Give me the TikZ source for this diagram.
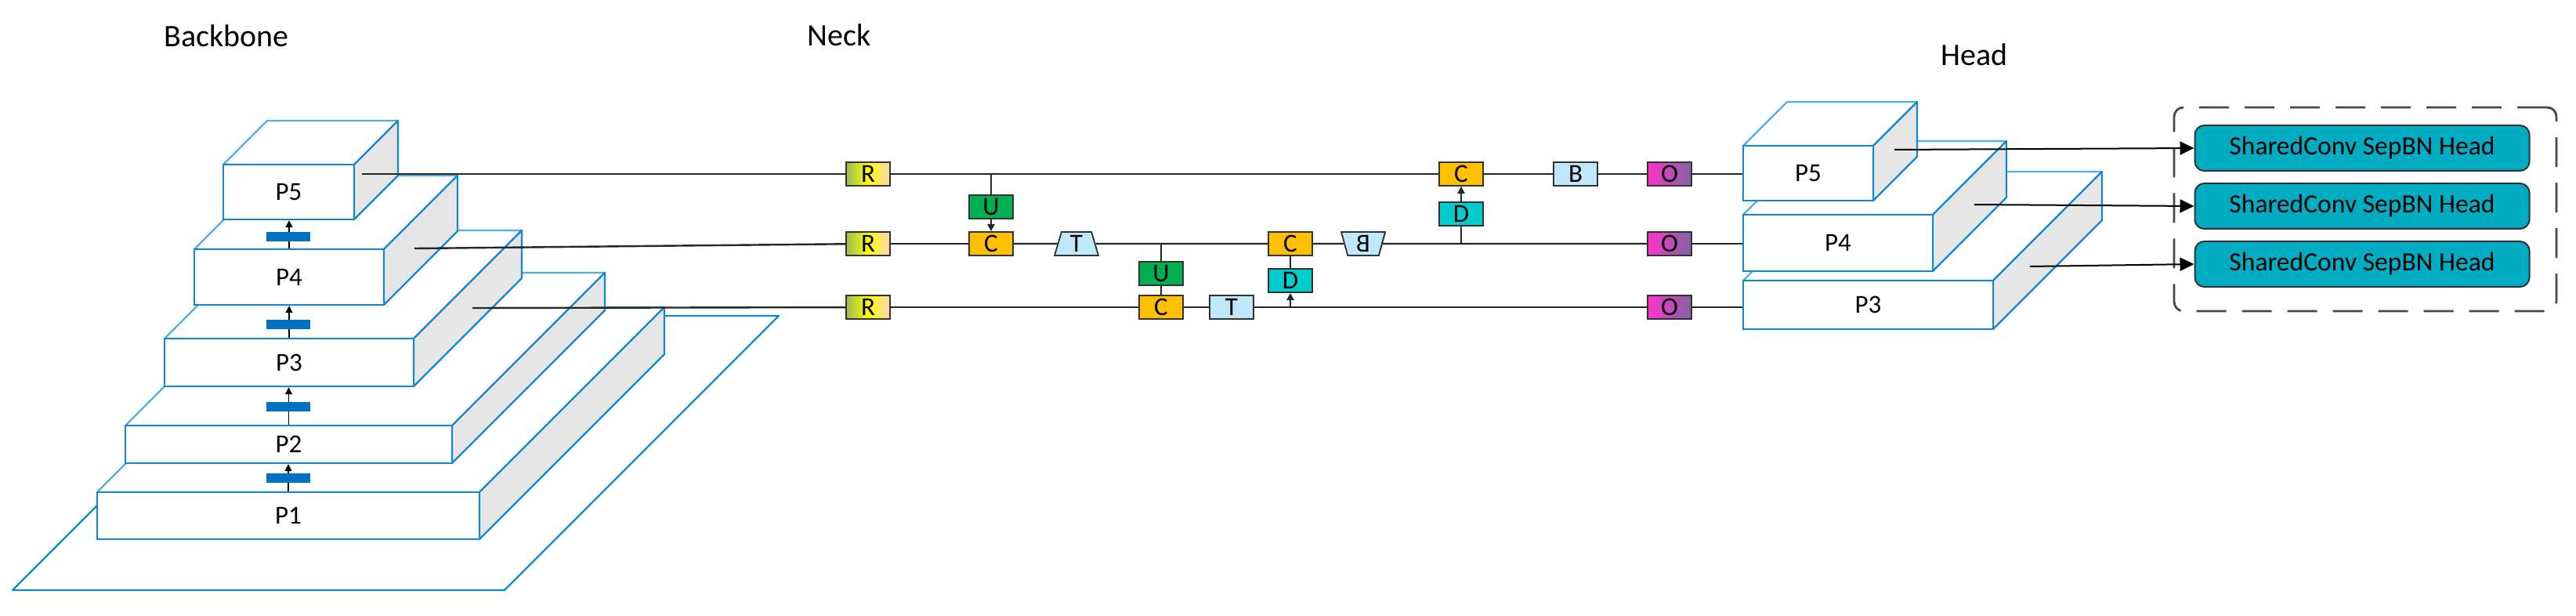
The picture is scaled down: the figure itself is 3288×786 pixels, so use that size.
\documentclass[tikz,border=0pt]{standalone}
\usepackage{fontspec}
\setmainfont{Carlito}
\usetikzlibrary{arrows.meta,shapes.geometric,shadows}

\definecolor{bbBlue}{RGB}{16,136,212}
\definecolor{bbBlueL}{RGB}{80,176,228}
\definecolor{sideGray}{RGB}{230,230,230}
\definecolor{barBlue}{RGB}{0,112,192}
\definecolor{cOrange}{RGB}{255,192,0}
\definecolor{cGreen}{RGB}{0,176,80}
\definecolor{cCyan}{RGB}{0,204,204}
\definecolor{cLight}{RGB}{192,233,252}
\definecolor{rLeft}{RGB}{155,187,89}
\definecolor{rMid}{RGB}{255,255,0}
\definecolor{rRight}{RGB}{252,213,180}
\definecolor{oLeft}{RGB}{255,51,204}
\definecolor{oRight}{RGB}{128,100,162}
\definecolor{headTeal}{RGB}{0,172,193}
\definecolor{edgeDark}{RGB}{50,50,50}

\tikzset{
  front/.style={draw=bbBlue,fill=white,line width=1.2pt,inner sep=0pt,font=\fontsize{16.5}{18}\selectfont},
  opbox/.style={draw=edgeDark,line width=0.9pt,minimum width=28pt,minimum height=15pt,inner sep=0pt,
     font=\fontsize{16.5}{16}\selectfont,
     drop shadow={shadow xshift=0.6pt,shadow yshift=-0.6pt,fill=black,opacity=0.25}},
  rbox/.style={opbox,left color=rLeft,right color=rRight,middle color=rMid},
  obox/.style={opbox,left color=oLeft,right color=oRight},
  cbox/.style={opbox,fill=cOrange},
  ubox/.style={opbox,fill=cGreen},
  dbox/.style={opbox,fill=cCyan},
  lbox/.style={opbox,fill=cLight},
  trap/.style={opbox,fill=cLight,shape=trapezium,trapezium left angle=80,trapezium right angle=80,trapezium stretches=true},
  flow/.style={line width=1.2pt,draw=black!85},
  upar/.style={flow,-{Triangle[length=4.5pt,width=4.5pt]}},
  thinar/.style={line width=0.8pt,-{Triangle[length=4.5pt,width=4.5pt]}},
  bbbar/.style={fill=barBlue,minimum width=28pt,minimum height=6pt,inner sep=0pt},
  shead/.style={draw=edgeDark,line width=1pt,fill=headTeal,rounded corners=6pt,minimum width=213.5pt,
     minimum height=29pt,inner sep=0pt,font=\fontsize{16.8}{18}\selectfont},
  headar/.style={line width=1pt,-{Triangle[length=9pt,width=8.5pt]}},
  ttl/.style={font=\fontsize{20}{24}\selectfont,inner sep=0pt},
  grp/.style={draw=edgeDark!90,line width=1.4pt,dash pattern=on 19pt off 10pt,rounded corners=6pt,
     minimum width=244pt,minimum height=130pt,inner sep=0pt}
}

% #1 x1, #2 y1 (top), #3 x2, #4 y2 (bottom), #5 depth, #6 name, #7 label
\newcommand{\cuboid}[7]{%
  \filldraw[fill=white,draw=bbBlueL,line width=1.1pt,line join=round]
     (#1,#2) -- ++(#5,-#5) -- ({#3+#5},{#2-#5}) -- (#3,#2) -- cycle;
  \filldraw[fill=sideGray,draw=bbBlue,line width=1.1pt,line join=round]
     (#3,#2) -- ++(#5,-#5) -- ({#3+#5},{#4-#5}) -- (#3,#4) -- cycle;
  \node[front,minimum width={(#3-#1)*0.5pt},minimum height={(#4-#2)*0.5pt}]
     (#6) at ({(#1+#3)/2},{(#2+#4)/2}) {#7};
}

\begin{document}
\begin{tikzpicture}[x=0.5pt,y=-0.5pt]
\useasboundingbox (0,0) rectangle (3288,786);

% titles
\node[ttl] (tBackbone) at (289,46) {Backbone};
\node[ttl] (tNeck) at (1071,45) {Neck};
\node[ttl] (tHead) at (2520,70) {Head};

% ---------------- backbone ----------------
\filldraw[fill=white,draw=bbBlue,line width=1.1pt,line join=round]
  (16,753) -- (644,753) -- (994,403) -- (366,403) -- cycle;
\cuboid{124}{628}{612}{688}{236}{bbP1}{P1}
\cuboid{160}{543}{577}{591}{195}{bbP2}{P2}
\cuboid{210}{432}{528}{493}{138}{bbP3}{P3}
\cuboid{248}{318}{490}{389}{94}{bbP4}{P4}
\cuboid{285}{210}{452}{280}{56}{bbP5}{P5}

\draw[thinar] (bbP1.north) -- (bbP1.north |- bbP2.south);
\draw[thinar] (bbP2.north) -- (bbP2.north |- bbP3.south);
\draw[thinar] (bbP3.north) -- (bbP3.north |- bbP4.south);
\draw[thinar] (bbP4.north) -- (bbP4.north |- bbP5.south);
\node[bbbar] (bar1) at (368,610) {};
\node[bbbar] (bar2) at (368,519) {};
\node[bbbar] (bar3) at (368,414) {};
\node[bbbar] (bar4) at (368,302) {};

\coordinate (bb5s) at (462,222);
\coordinate (bb4s) at (529,317);
\coordinate (bb3s) at (603,393);

% ---------------- head cuboids ----------------
\cuboid{2225}{358}{2544}{420}{139}{hP3}{P3}
\cuboid{2225}{274}{2467}{346}{94}{hP4}{P4}
\cuboid{2225}{186}{2391}{256}{56}{hP5}{P5}

% ---------------- neck ----------------
\node[rbox] (R1) at (1108,222) {R};
\node[rbox] (R2) at (1108,311) {R};
\node[rbox] (R3) at (1108,392) {R};

\node[ubox] (U1) at (1265,264) {U};
\node[cbox] (C1) at (1265,311) {C};
\node[trap] (T1) at (1374,311) {T};
\node[ubox] (U2) at (1482,349) {U};
\node[cbox] (C2) at (1482,392) {C};
\node[lbox] (T2) at (1572,392) {T};
\node[cbox] (C3) at (1647,311) {C};
\node[dbox] (D1) at (1647,358) {D};
\node[trap,shape border rotate=180] (B1) at (1740,311) {\scalebox{-1}[1]{B}};
\node[cbox] (C4) at (1865,222) {C};
\node[dbox] (D2) at (1865,273) {D};
\node[lbox] (B2) at (2011,222) {B};

\node[obox] (O1) at (2131,222) {O};
\node[obox] (O2) at (2131,311) {O};
\node[obox] (O3) at (2131,392) {O};

% main lines
\draw[flow] (bb5s) -- (R1);
\draw[flow] (R1) -- (C4);
\draw[flow] (C4) -- (B2);
\draw[flow] (B2) -- (O1);
\draw[flow] (O1) -- (hP5.west |- O1);

\draw[flow] (bb4s) -- (R2);
\draw[flow] (R2) -- (C1);
\draw[flow] (C1) -- (T1);
\draw[flow] (T1) -- (C3);
\draw[flow] (C3) -- (B1);
\draw[flow] (B1) -- (O2);
\draw[flow] (O2) -- (hP4.west |- O2);

\draw[flow] (bb3s) -- (R3);
\draw[flow] (R3) -- (C2);
\draw[flow] (C2) -- (T2);
\draw[flow] (T2) -- (O3);
\draw[flow] (O3) -- (hP3.west |- O3);

% vertical links
\draw[flow] (U1.north |- R1.center) -- (U1.north);
\draw[upar] (U1.south) -- (C1.north);
\draw[flow] (U2.north |- C1.center) -- (U2.north);
\draw[flow] (U2.south) -- (C2.north);
\draw[upar] (D1.south |- C2.center) -- (D1.south);
\draw[flow] (D1.north) -- (C3.south);
\draw[flow] (D2.south |- C1.center) -- (D2.south);
\draw[upar] (D2.north) -- (C4.south);

% ---------------- heads ----------------
\node[grp] (grpBox) at (3019,267) {};
\node[shead] (S1) at (3015,189) {SharedConv SepBN Head};
\node[shead] (S2) at (3015,263) {SharedConv SepBN Head};
\node[shead] (S3) at (3015,337) {SharedConv SepBN Head};

\coordinate (h5s) at (2418,191);
\coordinate (h4s) at (2520,261);
\coordinate (h3s) at (2591,340);
\draw[headar] (h5s) -- (S1.west);
\draw[headar] (h4s) -- (S2.west);
\draw[headar] (h3s) -- (S3.west);
\end{tikzpicture}
\end{document}
